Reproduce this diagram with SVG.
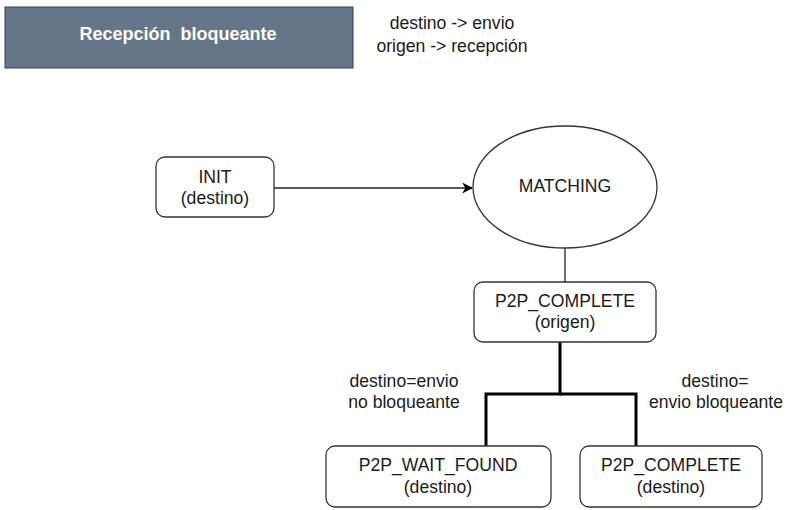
<svg xmlns="http://www.w3.org/2000/svg" width="787" height="510" viewBox="0 0 787 510">
<defs>
<style>
text{font-family:"Liberation Sans",Arial,sans-serif;font-size:17.6px;fill:#1a1a1a;text-anchor:middle}
.box{fill:#fff;stroke:#333;stroke-width:1.3}
.hdr{font-weight:bold;fill:#fff;font-size:18px}
.thin{stroke:#222;stroke-width:1.3;fill:none}
.thick{stroke:#000;stroke-width:3;fill:none}
</style>
<marker id="arr" viewBox="0 0 10 10" refX="9" refY="5" markerWidth="11" markerHeight="11" markerUnits="userSpaceOnUse" orient="auto">
<path d="M0,0 L10,5 L0,10 L3,5 Z" fill="#000"/>
</marker>
</defs>
<rect width="787" height="510" fill="#fff"/>
<g id="header">
<rect x="5" y="7" width="348" height="61" fill="#647687" stroke="#314354" stroke-width="1"/>
<text class="hdr" x="178" y="40" xml:space="preserve">Recepción  bloqueante</text>
</g>
<g id="legend">
<text x="452" y="29">destino -&gt; envio</text>
<text x="452" y="52">origen -&gt; recepción</text>
</g>
<g id="connectors">
<line class="thin" x1="274" y1="188" x2="472" y2="188" marker-end="url(#arr)"/>
<line class="thin" x1="565" y1="248" x2="565" y2="282"/>
<polyline class="thick" points="560,342 560,394 486,394 486,446"/>
<polyline class="thick" points="560,394 636,394 636,446"/>
<text x="404" y="387">destino=envio</text>
<text x="404" y="408">no bloqueante</text>
<text x="715" y="387">destino=</text>
<text x="716" y="408">envio bloqueante</text>
</g>
<g id="init">
<rect class="box" x="156" y="157" width="118" height="60" rx="9"/>
<text x="215" y="183">INIT</text>
<text x="215" y="204">(destino)</text>
</g>
<g id="matching">
<ellipse class="box" cx="565" cy="187" rx="92" ry="61"/>
<text x="565" y="192">MATCHING</text>
</g>
<g id="p2p_complete_origen">
<rect class="box" x="474" y="282" width="182" height="60" rx="9"/>
<text x="565" y="307">P2P_COMPLETE</text>
<text x="565" y="328">(origen)</text>
</g>
<g id="p2p_wait_found">
<rect class="box" x="326" y="446" width="225" height="61" rx="9"/>
<text x="438" y="471">P2P_WAIT_FOUND</text>
<text x="438" y="493">(destino)</text>
</g>
<g id="p2p_complete_destino">
<rect class="box" x="580" y="446" width="182" height="61" rx="9"/>
<text x="671" y="471">P2P_COMPLETE</text>
<text x="671" y="493">(destino)</text>
</g>
</svg>
